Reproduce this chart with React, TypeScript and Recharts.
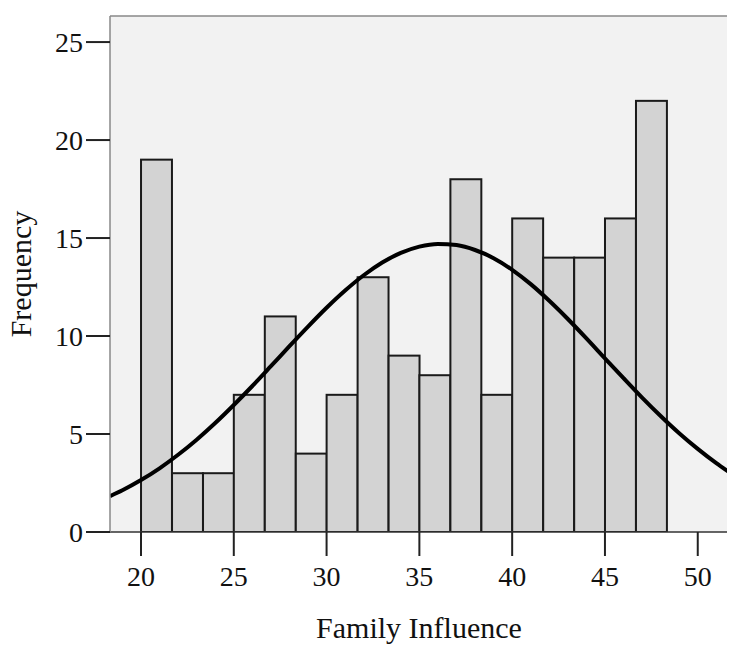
import React from "react";
import {
  ComposedChart,
  Bar,
  Line,
  XAxis,
  YAxis,
  CartesianGrid,
  ReferenceLine,
} from "recharts";

// Histogram bins (centres) and frequencies
const binCenters = [
  20.83, 22.5, 24.17, 25.83, 27.5, 29.17, 30.83, 32.5, 34.17, 35.83, 37.5,
  39.17, 40.83, 42.5, 44.17, 45.83, 47.5,
];
const frequencies = [19, 3, 3, 7, 11, 4, 7, 13, 9, 8, 18, 7, 16, 14, 14, 16, 22];

// Normal curve
const curveX = [
  18.33, 19, 20, 21, 22, 23, 24, 25, 26, 27, 28, 29, 30, 31, 32, 33, 34, 35, 36,
  37, 38, 39, 40, 41, 42, 43, 44, 45, 46, 47, 48, 49, 50, 51, 51.63,
];
const curveY = [
  1.83, 2.13, 2.65, 3.25, 3.94, 4.71, 5.56, 6.48, 7.45, 8.46, 9.48, 10.48,
  11.44, 12.32, 13.1, 13.75, 14.24, 14.56, 14.7, 14.64, 14.39, 13.97, 13.38,
  12.65, 11.8, 10.87, 9.88, 8.86, 7.85, 6.86, 5.92, 5.04, 4.24, 3.51, 3.09,
];

const xTicks = [20, 25, 30, 35, 40, 45, 50];
const yTicks = [0, 5, 10, 15, 20, 25];

const X_MIN = 18.33;
const X_MAX = 51.63;
const Y_MAX = 26.33;
const BIN_W = 5 / 3;

const barData = binCenters.map((x, i) => ({ x, count: frequencies[i] }));
const curveData = curveX.map((x, i) => ({ x, curve: curveY[i] }));

const CHART_W = 727;
const CHART_H = 641;
const MARGIN = { top: 8, right: 7, bottom: 7, left: 0 };
const Y_AXIS_W = 102;
const X_AXIS_H = 110;
const PLOT_W = CHART_W - MARGIN.left - MARGIN.right - Y_AXIS_W;
const BAR_SIZE = (PLOT_W / (X_MAX - X_MIN)) * BIN_W;

const FONT = "'Liberation Serif', 'Times New Roman', serif";

// Bar drawn with full bin width, centred on the library-computed bar centre
const BinBar = (props: any) => {
  const { x, y, width, height } = props;
  if (height == null || width == null) return null;
  const cx = x + width / 2;
  return (
    <rect
      x={cx - BAR_SIZE / 2}
      y={y}
      width={BAR_SIZE}
      height={height}
      fill="#d3d3d3"
      stroke="#1a1a1a"
      strokeWidth={2}
    />
  );
};

export default function App() {
  return (
    <ComposedChart
      width={CHART_W}
      height={CHART_H}
      data={barData}
      margin={MARGIN}
      barCategoryGap={0}
      barGap={0}
      style={{ fontFamily: FONT }}
    >
      <CartesianGrid
        fill="#f2f2f2"
        horizontal={false}
        vertical={false}
        stroke="none"
      />
      <XAxis
        xAxisId="bins"
        dataKey="x"
        type="number"
        domain={[X_MIN, X_MAX]}
        ticks={xTicks}
        allowDataOverflow
        height={X_AXIS_H}
        tickSize={24}
        tickMargin={10}
        axisLine={{ stroke: "#333", strokeWidth: 1.5 }}
        tickLine={{ stroke: "#222", strokeWidth: 2 }}
        tick={{ fill: "#111", fontSize: 28, fontFamily: FONT }}
        label={{
          value: "Family Influence",
          position: "insideBottom",
          offset: 4,
          style: { fill: "#111", fontSize: 30, fontFamily: FONT },
        }}
      />
      <XAxis
        xAxisId="curve"
        dataKey="x"
        type="number"
        domain={[X_MIN, X_MAX]}
        allowDataOverflow
        hide
      />
      <YAxis
        type="number"
        domain={[0, Y_MAX]}
        ticks={yTicks}
        allowDataOverflow
        width={Y_AXIS_W}
        tickSize={24}
        tickMargin={3}
        axisLine={{ stroke: "#888", strokeWidth: 1.5 }}
        tickLine={{ stroke: "#222", strokeWidth: 2 }}
        tick={{ fill: "#111", fontSize: 28, fontFamily: FONT }}
        label={{
          value: "Frequency",
          angle: -90,
          position: "insideLeft",
          offset: 12,
          style: {
            fill: "#111",
            fontSize: 30,
            fontFamily: FONT,
            textAnchor: "middle",
          },
        }}
      />
      <ReferenceLine xAxisId="bins" y={Y_MAX} stroke="#888" strokeWidth={1.5} />
      <ReferenceLine xAxisId="bins" x={X_MAX} stroke="#888" strokeWidth={1.5} />
      <Bar
        xAxisId="bins"
        dataKey="count"
        fill="#d3d3d3"
        stroke="#1a1a1a"
        strokeWidth={2}
        shape={BinBar}
        isAnimationActive={false}
      />
      <Line
        xAxisId="curve"
        data={curveData}
        dataKey="curve"
        type="monotone"
        stroke="#000"
        strokeWidth={4}
        dot={false}
        activeDot={false}
        isAnimationActive={false}
      />
    </ComposedChart>
  );
}
